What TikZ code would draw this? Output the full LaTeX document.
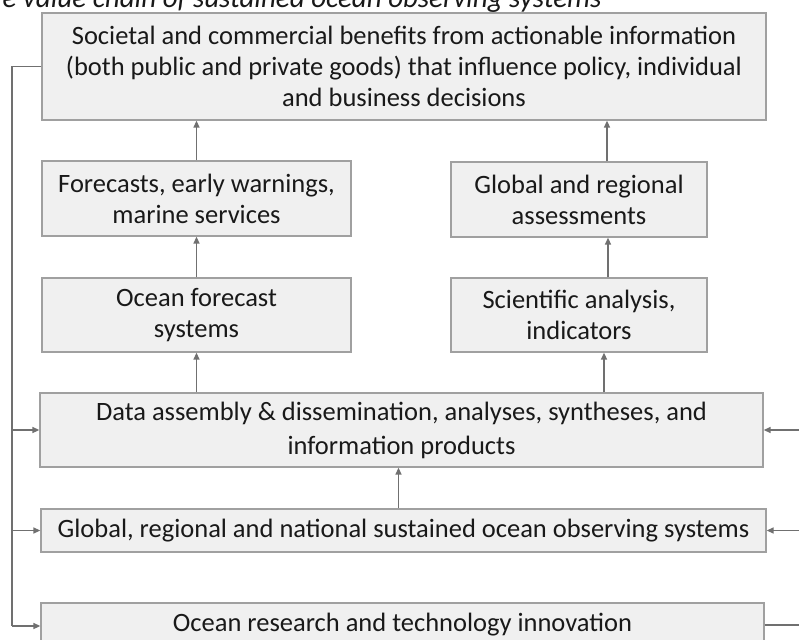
\documentclass[tikz,border=0pt]{standalone}
\usepackage{fontspec}
\setmainfont{Carlito}
\usetikzlibrary{arrows.meta,calc}
\begin{document}
\begin{tikzpicture}[x=1pt,y=-1pt,
  box/.style={draw=boxline,fill=boxfill,line width=1.3pt,inner sep=0pt,align=center,
    text=black!90,font=\fontsize{26.5}{31}\selectfont},
  arr/.style={draw=arrline,line width=1.5pt,-{Triangle[length=7pt,width=6pt]}},
  plain/.style={draw=arrline,line width=1.5pt}]
\definecolor{boxfill}{HTML}{F0F0F0}
\definecolor{boxline}{HTML}{A0A0A0}
\definecolor{arrline}{HTML}{707070}
\useasboundingbox[fill=white] (0,0) rectangle (799,639);
\node[anchor=base east,font=\fontsize{29}{34}\selectfont\itshape,text=black!90] (title) at (605,8) {e value chain of sustained ocean observing systems};
\node[box,minimum width=724,minimum height=107] (top) at (404,66.5) {Societal and commercial benefits from actionable information\\(both public and private goods) that influence policy, individual\\and business decisions};
\node[box,minimum width=309,minimum height=75] (fore) at (196.5,198.5) {Forecasts, early warnings,\\marine services};
\node[box,minimum width=309,minimum height=74] (ofs) at (196.5,315) {Ocean forecast\\systems};
\node[box,minimum width=256,minimum height=75] (ga) at (579,199.5) {Global and regional\\assessments};
\node[box,minimum width=256,minimum height=74] (sci) at (579,315) {Scientific analysis,\\indicators};
\node[box,minimum width=723,minimum height=74,font=\fontsize{26.5}{34}\selectfont] (data) at (401.5,430) {Data assembly \& dissemination, analyses, syntheses, and\\information products};
\node[box,minimum width=725,minimum height=43] (obs) at (403.5,530.5) {Global, regional and national sustained ocean observing systems};
\node[box,minimum width=723,minimum height=44] (res) at (402.5,625) {Ocean research and technology innovation};
% vertical flow
\draw[arr] (fore.north) -- (fore.north |- top.south);
\draw[arr] (ofs.north) -- (ofs.north |- fore.south);
\draw[arr] (ofs.south |- data.north) -- (ofs.south);
\draw[arr] ([xshift=28]ga.north) -- ([xshift=28]ga.north |- top.south);
\draw[arr] ([xshift=29]sci.north) -- ([xshift=29]sci.north |- ga.south);
\draw[arr] ([xshift=25]sci.south |- data.north) -- ([xshift=25]sci.south);
\draw[arr] ([xshift=-5]obs.north) -- ([xshift=-5]obs.north |- data.south);
% left feedback
\coordinate (lt) at (12,66.5);
\coordinate (lb) at (12,626);
\draw[plain] (top.west) -- (lt) -- (lb);
\draw[arr] (lb) -- (lb -| res.west);
\draw[arr] (data.west -| lt) -- (data.west);
\draw[arr] (obs.west -| lt) -- (obs.west);
% right feedback
\coordinate (rr) at (806,430);
\draw[arr] (data.east -| rr) -- (data.east);
\draw[arr] (obs.east -| rr) -- (obs.east);
\draw[plain] (res.east) -- (res.east -| rr);
\end{tikzpicture}
\end{document}
